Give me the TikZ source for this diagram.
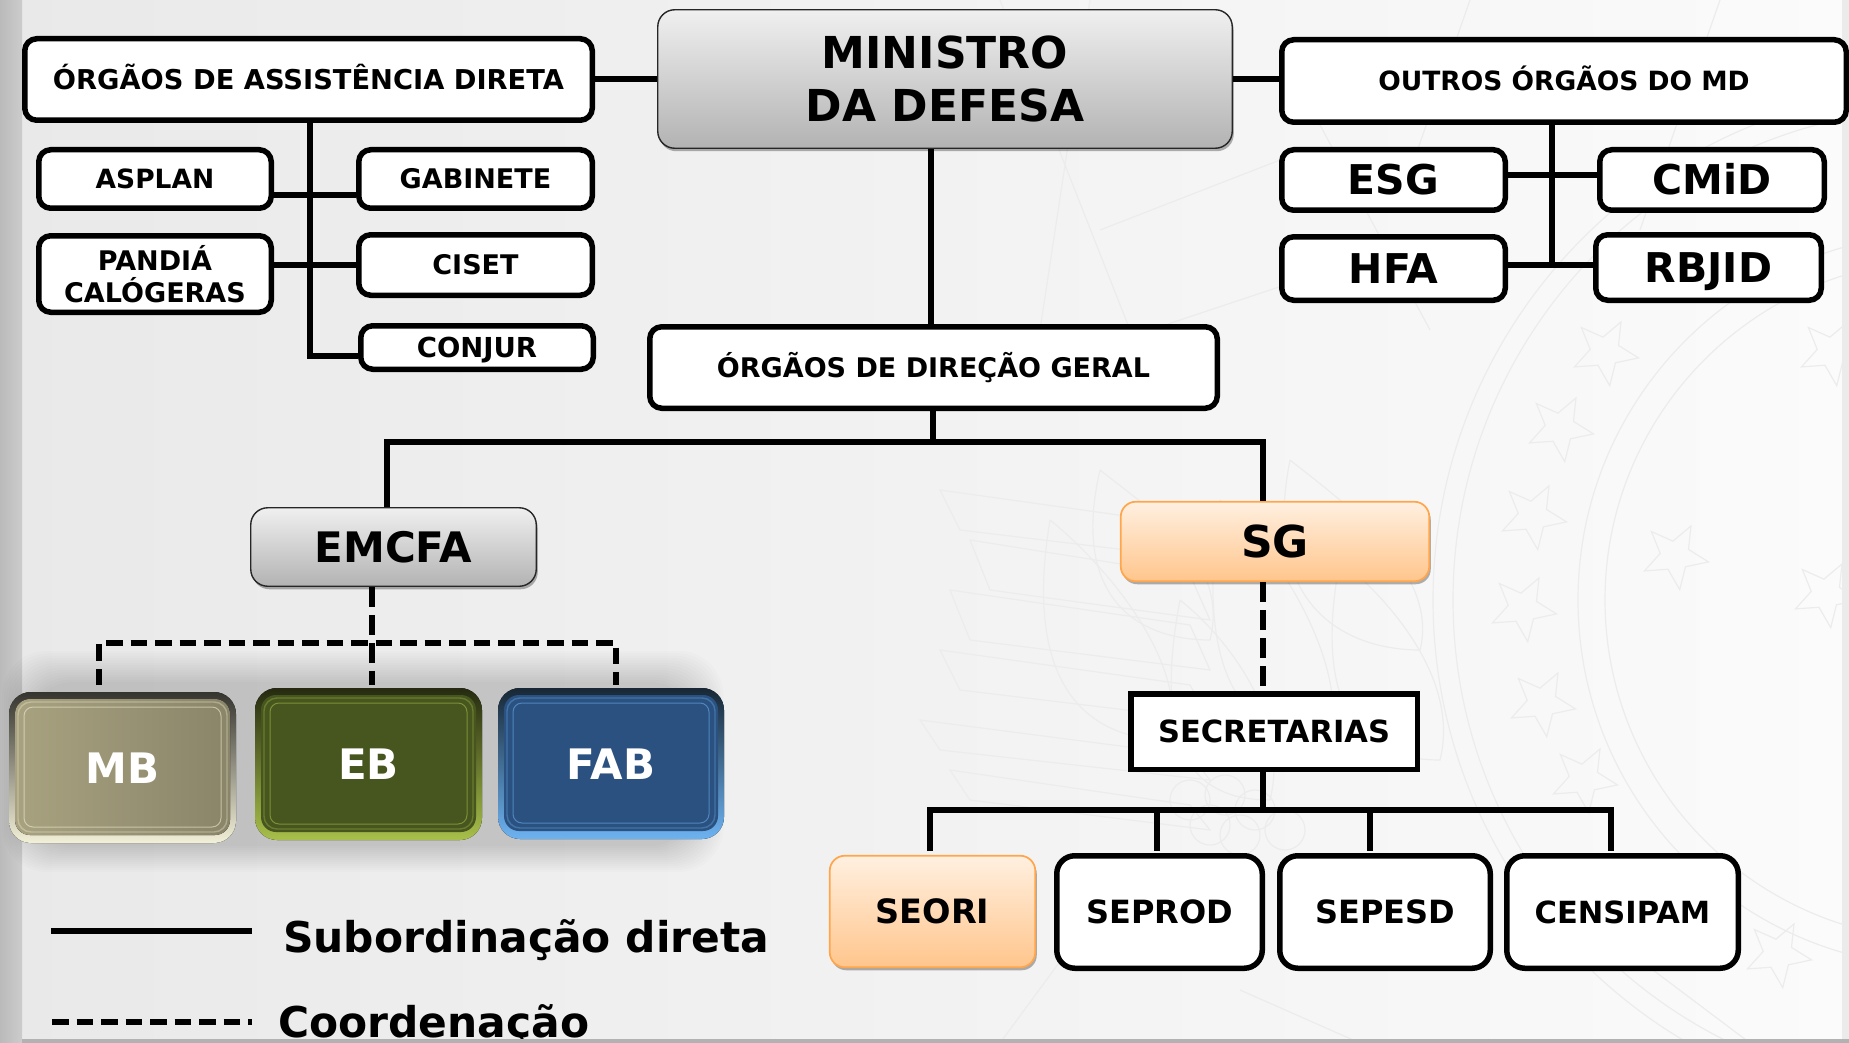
\documentclass[tikz,border=0pt]{standalone}
\usepackage{fontspec}
\setmainfont{DejaVu Sans}
\usetikzlibrary{calc,shadows}
\definecolor{panelL}{HTML}{E9E9E9}
\definecolor{panelR}{HTML}{FBFBFB}
\definecolor{wm}{HTML}{ECECEC}
\tikzset{
  x=1pt,y=-1pt,
  whitebox/.style={draw=black,line width=5.5pt,fill=white,rounded corners=12pt,inner sep=0pt,align=center},
  roundbox/.style={whitebox,rounded corners=18pt},
  sharpbox/.style={draw=black,line width=5.5pt,fill=white,inner sep=0pt,align=center},
  softshadow/.style={drop shadow={shadow xshift=1.5pt,shadow yshift=-3pt,opacity=.3,fill=black}},
  greybox/.style={draw=black!85,line width=1.4pt,rounded corners=17pt,top color=black!6,bottom color=black!30,inner sep=0pt,align=center,softshadow},
  orangebox/.style={draw=orange!70!white,line width=1.7pt,rounded corners=15pt,top color=orange!12!white,bottom color=orange!45!white,inner sep=0pt,align=center,softshadow},
  twolines/.style={text height=,text depth=},
  conn/.style={line width=6pt,draw=black},
  dashconn/.style={line width=6pt,draw=black,dash pattern=on 16.5pt off 8pt},
  vdashconn/.style={line width=6pt,draw=black,dash pattern=on 20pt off 8pt},
  legendtext/.style={font=\bfseries,anchor=base west,inner sep=0pt},
  mbfill/.style={left color=MBb,middle color=MBb,right color=MBb!82!black},
  ebfill/.style={fill=EBb},
  fabfill/.style={fill=FABb},
}
\definecolor{MBb}{HTML}{A8A280}\definecolor{MBl}{HTML}{F3F0D8}
\definecolor{EBb}{HTML}{47561F}\definecolor{EBl}{HTML}{A8C04A}
\definecolor{FABb}{HTML}{2B5180}\definecolor{FABl}{HTML}{6DB3F2}
% box from outer corners: name, x1,y1,x2,y2, style, size, text
\newcommand{\bx}[8]{%
  \pgfmathsetmacro{\bw}{#4-#2-5.5}\pgfmathsetmacro{\bh}{#5-#3-5.5}\pgfmathsetmacro{\lsk}{#7*1.19}\pgfmathsetmacro{\tht}{#7*0.729}%
  \node[text height=\tht pt,text depth=0pt,#6,minimum width=\bw pt,minimum height=\bh pt,font=\bfseries\fontsize{#7}{\lsk}\selectfont] (#1) at ({(#2+#4)/2},{(#3+#5)/2}) {#8};}
% bevelled box: name,x1,y1,x2,y2,fill style,light colour,text,y offset
\newcommand{\bev}[9]{%
  \fill[top color=#7!22!black,bottom color=#7,rounded corners=22pt] (#2,#3) rectangle (#4,#5);
  \fill[#6,rounded corners=15pt] (#2+6,#3+7) rectangle (#4-6,#5-8);
  \draw[#7,opacity=.35,line width=1.4pt,rounded corners=13pt] (#2+9,#3+10) rectangle (#4-9,#5-11);
  \draw[#7,opacity=.55,line width=1pt,rounded corners=9pt] (#2+15,#3+15) rectangle (#4-15,#5-16);
  \node[font=\bfseries,text=white,inner sep=0pt] (#1) at ({(#2+#4)/2},{(#3+#5)/2+#9}) {\fontsize{42}{46}\selectfont #8};}
\newcommand{\wmstar}[2]{\draw[wm,line width=1.2pt] ($(#1,#2)+(10:34)$) -- ($(#1,#2)+(46:15)$) -- ($(#1,#2)+(82:34)$) -- ($(#1,#2)+(118:15)$) -- ($(#1,#2)+(154:34)$) -- ($(#1,#2)+(190:15)$) -- ($(#1,#2)+(226:34)$) -- ($(#1,#2)+(262:15)$) -- ($(#1,#2)+(298:34)$) -- ($(#1,#2)+(334:15)$) -- cycle;}
\begin{document}
\begin{tikzpicture}
\useasboundingbox (0,0) rectangle (1849,1043);
\shade[left color=panelL,right color=panelR] (0,0) rectangle (1849,1043);
% watermark
\begin{scope}
\clip (22,0) rectangle (1842,1039);
\foreach \r in {340,367,492,512}{\draw[wm,line width=1.2pt] (1945,600) circle[radius=\r];}
\wmstar{1605}{352}\wmstar{1560}{428}\wmstar{1533}{516}\wmstar{1675}{556}\wmstar{1523}{608}\wmstar{1542}{703}\wmstar{1584}{779}\wmstar{1826}{594}\wmstar{1832}{352}\wmstar{1778}{954}
% wing feathers and leaves
\foreach \ya/\xa/\yb in {490/940/530,540/970/590,590/950/640,650/940/690,720/920/750,770/950/800}{
  \draw[wm,line width=1.2pt] (\xa,\ya) -- (\xa+20,\yb) -- (1210,\yb+30) -- (1190,\ya+35) -- cycle;}
\foreach \xa/\ya/\xb/\yb in {1050/520/1170/740,1100/470/1210/640,1220/500/1330/740,1290/460/1420/650,1340/560/1440/760,1180/600/1270/800}{
  \draw[wm,line width=1.2pt] (\xa,\ya) .. controls (\xa-30,\yb-40) and (\xb-70,\yb) .. (\xb,\yb) .. controls (\xb+20,\yb-80) and (\xa+50,\ya+40) .. (\xa,\ya);}
\foreach \cx/\cy in {1190/800,1225/795,1255/810,1210/825,1240/835,1285/830}{\draw[wm,line width=1.2pt] (\cx,\cy) circle[radius=20];}
\foreach \xa/\ya/\xb/\yb in {1000/0/1130/330,1090/0/1040/330,1320/125/1430/330,1470/0/1400/200,1720/0/1640/230,1100/230/1280/160,1150/330/1420/240,1000/1043/1120/880,1750/1043/1560/900,1240/990/1360/1043}{
  \draw[wm,line width=1.2pt] (\xa,\ya) -- (\xb,\yb);}
\end{scope}
\fill[black!8] (1842,0) rectangle (1849,1039);
% left strip
\shade[left color=black!27,right color=black!20] (0,0) rectangle (22,1043);
% shadow behind bevelled boxes
\foreach \i in {0,...,13}{
  \fill[black,opacity=0.013,rounded corners=45pt] ({28-\i*2},{682-\i*2.4}) rectangle ({695+\i*2.2},{846+\i*2});
}

% boxes
\bx{oad}{22}{36}{595}{123}{whitebox}{27.3}{ÓRGÃOS DE ASSISTÊNCIA DIRETA}
\bx{min}{655}{7}{1235}{151}{greybox,twolines}{44}{MINISTRO\\DA DEFESA}
\bx{out}{1279}{37}{1849}{125}{whitebox}{26.5}{OUTROS ÓRGÃOS DO MD}
\bx{asp}{36}{147}{274}{211}{whitebox}{26.5}{ASPLAN}
\bx{gab}{356}{147}{595}{211}{whitebox}{27}{GABINETE}
\bx{pan}{36}{233}{274}{315}{whitebox,twolines}{27}{PANDIÁ\\CALÓGERAS}
\bx{cis}{356}{232}{595}{298}{whitebox}{27}{CISET}
\bx{con}{358}{323}{596}{372}{whitebox}{27.5}{CONJUR}
\bx{esg}{1279}{147}{1508}{213}{whitebox}{41}{ESG}
\bx{cmd}{1597}{147}{1827}{213}{whitebox}{41}{CMiD}
\bx{hfa}{1279}{234}{1508}{303}{whitebox}{41}{HFA}
\bx{rbj}{1593}{232}{1824}{303}{whitebox}{41}{RBJID}
\bx{dg}{647}{324}{1220}{411}{whitebox}{27}{ÓRGÃOS DE DIREÇÃO GERAL}
\bx{emc}{248}{505}{539}{589}{greybox}{42}{EMCFA}
\bx{sg}{1118}{499}{1432}{584}{orangebox}{44}{SG}
\bx{sec}{1128}{691}{1420}{772}{sharpbox}{30.5}{SECRETARIAS}
\bx{seo}{827}{853}{1038}{970}{orangebox}{33.5}{SEORI}
\bx{spd}{1054}{853}{1265}{971}{roundbox}{32}{SEPROD}
\bx{spe}{1277}{853}{1493}{971}{roundbox}{32}{SEPESD}
\bx{cen}{1504}{853}{1741}{971}{roundbox}{30.5}{CENSIPAM}
\bev{mb}{9}{692}{236}{843}{mbfill}{MBl}{MB}{1}
\bev{eb}{255}{688}{482}{840}{ebfill}{EBl}{EB}{0}
\bev{fab}{498}{688}{724}{839}{fabfill}{FABl}{FAB}{1}

% named free ends of the connectors
\coordinate (ltr) at (310,0);
\coordinate (lend) at (0,356);
\coordinate (rtr) at (1552,0);
\coordinate (mtr) at (931,0);
\coordinate (dtr) at (933,0);
\coordinate (busA) at (0,442);
\coordinate (busB) at (0,810);
\coordinate (emX) at (387,0);
\coordinate (sgX) at (1263,0);
\coordinate (dashc) at (372,0);
\coordinate (busD) at (0,643);
\coordinate (mbX) at (99,0);
\coordinate (ebB) at (0,685);
\coordinate (fabX) at (616,0);
\coordinate (dSeo) at (930,0);
\coordinate (dSpd) at (1157,0);
\coordinate (dSpe) at (1370,0);
\coordinate (dCen) at (1611,0);
\coordinate (dEnd) at (0,851);

% connectors
\draw[conn] (oad.east |- 0,79) -- (min.west |- 0,79);
\draw[conn] (min.east |- 0,79) -- (out.west |- 0,79);
\draw[conn] (min.south -| mtr) -- (dg.north -| mtr);
\draw[conn] (oad.south -| ltr) -- (ltr |- lend) -- (con.west |- lend);
\draw[conn] (asp.east |- 0,195) -- (gab.west |- 0,195);
\draw[conn] (pan.east |- 0,265) -- (cis.west |- 0,265);
\draw[conn] (out.south -| rtr) -- (rtr |- 0,265);
\draw[conn] (esg.east |- 0,175) -- (cmd.west |- 0,175);
\draw[conn] (hfa.east |- 0,265) -- (rbj.west |- 0,265);
\draw[conn] (dg.south -| dtr) -- (dtr |- busA);
\draw[conn] (emc.north -| emX) -- (emX |- busA) -- (sgX |- busA) -- (sg.north -| sgX);
\draw[vdashconn] (emc.south -| dashc) -- (dashc |- ebB);
\draw[dashconn] (mbX |- ebB) -- (mbX |- busD) -- (fabX |- busD) -- (fabX |- ebB);
\draw[vdashconn] (sg.south -| sgX) -- (sec.north -| sgX);
\draw[conn] (sec.south -| sgX) -- (sgX |- busB);
\draw[conn] (dSeo |- dEnd) -- (dSeo |- busB) -- (dCen |- busB) -- (dCen |- dEnd);
\draw[conn] (dSpd |- busB) -- (dSpd |- dEnd);
\draw[conn] (dSpe |- busB) -- (dSpe |- dEnd);

% legend
\coordinate (lgA) at (51,931);
\coordinate (lgB) at (252,931);
\coordinate (lgC) at (52,1022);
\coordinate (lgD) at (252,1022);
\draw[conn,line width=6.5pt] (lgA) -- (lgB);
\draw[dashconn,line width=6pt] (lgC) -- (lgD);
\node[legendtext] (leg1) at (283,952) {\fontsize{42.4}{50}\selectfont Subordinação direta};
\node[legendtext] (leg2) at (278,1037) {\fontsize{42.4}{50}\selectfont Coordenação};
\fill[black!30] (22,1039) rectangle (1849,1043);
\end{tikzpicture}
\end{document}
